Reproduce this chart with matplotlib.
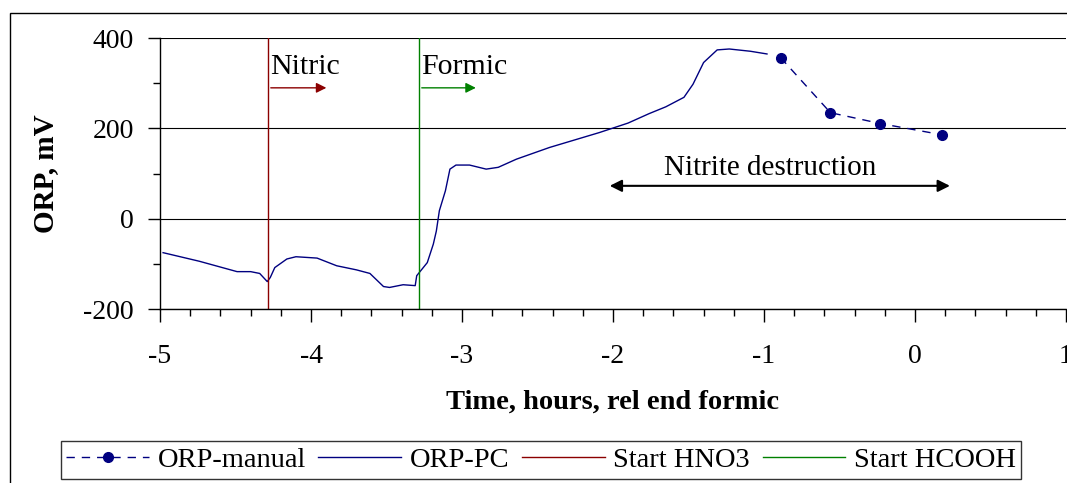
import matplotlib.pyplot as plt
from matplotlib.patches import Rectangle
from matplotlib.ticker import MultipleLocator

plt.rcParams['font.family'] = ['Liberation Serif', 'DejaVu Serif']

# ORP-PC trace (hours relative to end of formic, mV)
pc_time = [-4.98, -4.74, -4.49, -4.40, -4.34, -4.29, -4.27, -4.24, -4.16, -4.10,
           -3.96, -3.83, -3.70, -3.61, -3.52, -3.48, -3.39, -3.31, -3.30, -3.23,
           -3.19, -3.17, -3.15, -3.11, -3.08, -3.04, -2.95, -2.84, -2.76, -2.64,
           -2.42, -2.09, -1.90, -1.76, -1.65, -1.53, -1.47, -1.40, -1.31, -1.23,
           -1.09, -0.98]
pc_orp = [-75, -94, -117, -117, -121, -139, -130, -108, -89, -84,
          -87, -104, -113, -121, -150, -152, -146, -148, -126, -97,
          -56, -27, 18, 62, 110, 119, 119, 110, 114, 132,
          158, 191, 212, 233, 248, 269, 298, 346, 374, 376,
          371, 365]

# ORP-manual readings
man_time = [-0.89, -0.56, -0.23, 0.18]
man_orp = [357, 235, 211, 186]

start_hno3 = -4.285
start_hcooh = -3.285

navy = '#000080'
dred = '#8B0000'
dgreen = '#008000'

fig = plt.figure(figsize=(10.67, 4.83), dpi=100)
ax = fig.add_axes([0.15, 0.36, 0.849, 0.561])

ax.plot(man_time, man_orp, color=navy, ls=(0, (6, 5)), lw=1, marker='o',
        markersize=7, label='ORP-manual')
ax.plot(pc_time, pc_orp, color=navy, lw=1, label='ORP-PC')
ax.axvline(start_hno3, color=dred, lw=1, label='Start HNO3')
ax.axvline(start_hcooh, color=dgreen, lw=1, label='Start HCOOH')

ax.set_xlim(-5, 1)
ax.set_ylim(-200, 400)
ax.xaxis.set_major_locator(MultipleLocator(1))
ax.xaxis.set_minor_locator(MultipleLocator(0.2))
ax.yaxis.set_major_locator(MultipleLocator(200))
ax.yaxis.set_minor_locator(MultipleLocator(100))
ax.set_yticks([-200, 0, 200, 400], ['-200', '0', '200', '400'])
ax.set_xticks([-5, -4, -3, -2, -1, 0, 1], ['-5', '-4', '-3', '-2', '-1', '0', '1'])
ax.grid(axis='y', which='major', color='black', lw=0.8)
ax.set_axisbelow(True)
for s in ['top', 'right']:
    ax.spines[s].set_visible(False)
for s in ['left', 'bottom']:
    ax.spines[s].set_linewidth(1)
ax.tick_params(axis='both', which='major', length=9, width=1, labelsize=20, direction='out')
ax.tick_params(axis='both', which='minor', length=5, width=1, direction='out')
ax.tick_params(axis='x', which='major', pad=16)
ax.tick_params(axis='y', which='major', pad=10)

ax.set_xlabel('Time, hours, rel end formic', fontsize=20.5, fontweight='bold', labelpad=15)
ax.set_ylabel('ORP, mV', fontsize=21, fontweight='bold', labelpad=17)

# annotations
ax.text(-4.27, 337, 'Nitric', fontsize=21.5, va='center', ha='left')
ax.annotate('', xy=(-3.88, 290), xytext=(start_hno3, 290),
            arrowprops=dict(arrowstyle='-|>', color=dred, lw=1, mutation_scale=15))
ax.text(-3.27, 337, 'Formic', fontsize=21.5, va='center', ha='left')
ax.annotate('', xy=(-2.89, 290), xytext=(start_hcooh, 290),
            arrowprops=dict(arrowstyle='-|>', color=dgreen, lw=1, mutation_scale=15))
ax.text(-0.96, 112, 'Nitrite destruction', fontsize=21, va='center', ha='center')
ax.annotate('', xy=(-2.04, 73), xytext=(0.25, 73),
            arrowprops=dict(arrowstyle='<|-|>', color='black', lw=1.5, mutation_scale=18))

leg = fig.legend(loc='center', bbox_to_anchor=(541 / 1067, 1 - 460 / 483), ncol=4,
                 fontsize=20.5, frameon=True, fancybox=False, edgecolor='black',
                 handlelength=2.9, columnspacing=0.45, handletextpad=0.3,
                 borderpad=0.2, borderaxespad=0)
leg.get_frame().set_linewidth(1)

fig.patches.append(Rectangle((10 / 1067, -0.1), 2, 1 - 13 / 483 + 0.1,
                             transform=fig.transFigure, fill=False,
                             edgecolor='black', lw=1))

fig.savefig('out.png', dpi=100)
